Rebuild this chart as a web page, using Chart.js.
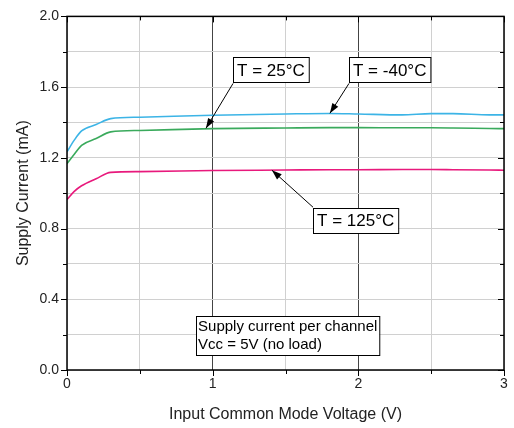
<!DOCTYPE html>
<html>
<head>
<meta charset="utf-8">
<script src="https://cdn.jsdelivr.net/npm/chart.js@4.4.1/dist/chart.umd.min.js"></script>
<style>
  html, body { margin: 0; padding: 0; background: #fff; }
  #wrap { width: 514px; height: 428px; }
</style>
</head>
<body>
<div id="wrap"><canvas id="c" width="514" height="428"></canvas></div>
<script>
// input common mode voltage (V)
const voltage = [0, 0.05, 0.1, 0.2, 0.3, 0.5, 1.0, 1.5, 1.8, 2.0, 2.3, 2.5, 2.65, 2.9, 3.0];
// supply current (mA)
const currentM40 = [1.234, 1.30, 1.352, 1.388, 1.422, 1.430, 1.441, 1.448, 1.451, 1.448, 1.443, 1.450, 1.450, 1.443, 1.443];
const current25 = [1.167, 1.22, 1.271, 1.309, 1.347, 1.355, 1.365, 1.369, 1.371, 1.371, 1.370, 1.370, 1.369, 1.366, 1.365];
const current125 = [0.964, 1.01, 1.042, 1.082, 1.118, 1.122, 1.128, 1.131, 1.133, 1.133, 1.134, 1.134, 1.133, 1.131, 1.130];

const seriesNames = ['T = -40°C', 'T = 25°C', 'T = 125°C'];
const seriesColors = ['#3cb4e6', '#3aaa5c', '#e8197c'];

const xTicks = [0, 1, 2, 3];
const yTicks = [0.0, 0.4, 0.8, 1.2, 1.6, 2.0];

// label boxes: [text, left x, top y, arrow tip x, arrow tip y, arrow from corner]
const labels = [
  ['T = 25°C', 1.14, 1.768, 0.954, 1.367, 'bl'],
  ['T = -40°C', 1.936, 1.768, 1.805, 1.452, 'bl'],
  ['T = 125°C', 1.689, 0.915, 1.407, 1.130, 'tl']
];
const noteLines = ['Supply current per channel', 'Vcc = 5V (no load)'];
const notePos = [0.886, 0.305];

const FONT = '"Liberation Sans", Arial, sans-serif';

function pts(ys) { return voltage.map((v, i) => ({ x: v, y: ys[i] })); }

const frame = {
  id: 'frame',
  afterDraw(chart) {
    const { ctx, chartArea: a, scales: { x, y } } = chart;
    ctx.save();
    ctx.strokeStyle = '#000';
    ctx.lineWidth = 1.5;
    ctx.strokeRect(a.left, a.top, a.right - a.left, a.bottom - a.top);
    ctx.lineWidth = 1;
    // y ticks
    for (let v = 0; v <= 2.0001; v += 0.2) {
      const py = Math.round(y.getPixelForValue(v)) + 0.5;
      const major = Math.abs(v / 0.4 - Math.round(v / 0.4)) < 1e-6;
      const len = major ? 6 : 4;
      ctx.beginPath();
      ctx.moveTo(a.left - len, py); ctx.lineTo(a.left, py);
      ctx.moveTo(a.right, py); ctx.lineTo(a.right - len, py);
      ctx.stroke();
    }
    // x ticks
    for (let v = 0; v <= 3.0001; v += 0.5) {
      const px = Math.round(x.getPixelForValue(v)) + 0.5;
      const major = Math.abs(v - Math.round(v)) < 1e-6;
      const len = major ? 6 : 4;
      ctx.beginPath();
      ctx.moveTo(px, a.bottom); ctx.lineTo(px, a.bottom + len);
      ctx.moveTo(px, a.top); ctx.lineTo(px, a.top + len);
      ctx.stroke();
    }
    // label boxes with arrows
    ctx.font = '17px ' + FONT;
    ctx.textBaseline = 'middle';
    labels.forEach(([txt, bx, by, tx, ty, corner]) => {
      const left = x.getPixelForValue(bx);
      const top = y.getPixelForValue(by);
      const w = ctx.measureText(txt).width + 8;
      const h = 25;
      ctx.fillStyle = '#fff';
      ctx.fillRect(left, top, w, h);
      ctx.strokeStyle = '#000';
      ctx.lineWidth = 1;
      ctx.strokeRect(Math.round(left) + 0.5, Math.round(top) + 0.5, w, h);
      ctx.fillStyle = '#000';
      ctx.fillText(txt, left + 4, top + h / 2 + 1);
      const sx = left, sy = corner === 'bl' ? top + h + 1 : top - 1;
      const ex = x.getPixelForValue(tx), ey = y.getPixelForValue(ty);
      ctx.beginPath(); ctx.moveTo(sx, sy); ctx.lineTo(ex, ey); ctx.stroke();
      const ang = Math.atan2(ey - sy, ex - sx);
      const hl = 10, hw = 3.5;
      ctx.beginPath();
      ctx.moveTo(ex, ey);
      ctx.lineTo(ex - hl * Math.cos(ang) + hw * Math.sin(ang), ey - hl * Math.sin(ang) - hw * Math.cos(ang));
      ctx.lineTo(ex - hl * Math.cos(ang) - hw * Math.sin(ang), ey - hl * Math.sin(ang) + hw * Math.cos(ang));
      ctx.closePath(); ctx.fill();
    });
    // note box
    ctx.font = '15px ' + FONT;
    const nl = x.getPixelForValue(notePos[0]);
    const nt = y.getPixelForValue(notePos[1]);
    const nw = Math.max(...noteLines.map(s => ctx.measureText(s).width)) + 4;
    const nh = 39;
    ctx.fillStyle = '#fff';
    ctx.fillRect(nl, nt, nw, nh);
    ctx.strokeRect(Math.round(nl) + 0.5, Math.round(nt) + 0.5, nw, nh);
    ctx.fillStyle = '#000';
    noteLines.forEach((s, i) => ctx.fillText(s, nl + 2, nt + 11 + i * 18));
    ctx.restore();
  }
};

new Chart(document.getElementById('c'), {
  type: 'line',
  data: {
    datasets: [
      { label: seriesNames[0], data: pts(currentM40), borderColor: seriesColors[0] },
      { label: seriesNames[1], data: pts(current25), borderColor: seriesColors[1] },
      { label: seriesNames[2], data: pts(current125), borderColor: seriesColors[2] }
    ]
  },
  options: {
    responsive: false,
    animation: false,
    layout: { padding: { top: 16, right: 10, left: 0, bottom: 0 } },
    elements: {
      line: { borderWidth: 1.6, tension: 0.3, cubicInterpolationMode: 'monotone' },
      point: { radius: 0 }
    },
    plugins: { legend: { display: false }, tooltip: { enabled: false } },
    scales: {
      x: {
        type: 'linear', min: 0, max: 3,
        afterFit(s) { s.height = 58; },
        afterBuildTicks(s) { s.ticks = [0, 0.5, 1, 1.5, 2, 2.5, 3].map(v => ({ value: v })); },
        ticks: {
          font: { family: FONT, size: 14 }, color: '#222', padding: 6,
          callback: v => xTicks.includes(v) ? String(v) : ''
        },
        grid: {
          drawTicks: false,
          color: c => (c.tick && (c.tick.value === 1 || c.tick.value === 2)) ? '#444' : '#d0d0d0',
          lineWidth: 1
        },
        border: { display: false },
        title: { display: true, text: 'Input Common Mode Voltage (V)', font: { family: FONT, size: 16 }, color: '#222', padding: { top: 10 } }
      },
      y: {
        type: 'linear', min: 0, max: 2.0,
        afterFit(s) { s.width = 67; },
        afterBuildTicks(s) {
          const t = [];
          for (let i = 0; i <= 10; i++) t.push({ value: +(i * 0.2).toFixed(1) });
          s.ticks = t;
        },
        ticks: {
          font: { family: FONT, size: 14 }, color: '#222', padding: 8,
          callback: v => {
            const hit = yTicks.find(t => Math.abs(t - v) < 1e-6);
            return hit !== undefined ? hit.toFixed(1) : '';
          }
        },
        grid: { drawTicks: false, color: '#d0d0d0', lineWidth: 1 },
        border: { display: false },
        title: { display: true, text: 'Supply Current (mA)', font: { family: FONT, size: 16 }, color: '#222', padding: { top: 14, bottom: 0 } }
      }
    }
  },
  plugins: [frame]
});
</script>
</body>
</html>
